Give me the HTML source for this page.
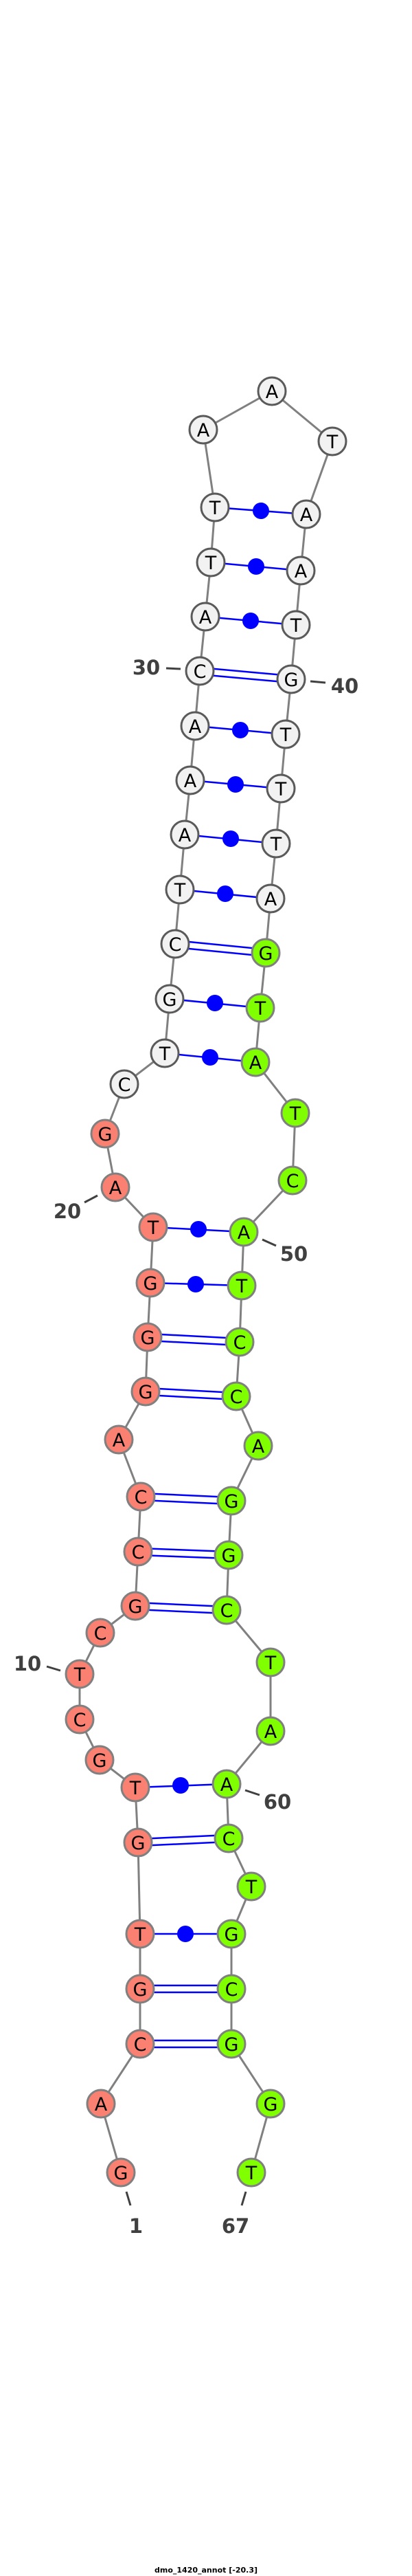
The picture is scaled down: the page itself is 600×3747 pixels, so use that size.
<!DOCTYPE html>
<html><head><meta charset="utf-8"><style>html,body{margin:0;padding:0;background:#fff}svg{display:block}</style></head>
<body>
<svg width="600" height="3747" viewBox="0 0 600 3747" xmlns="http://www.w3.org/2000/svg">
<g stroke="#808080" stroke-width="3" fill="none">
<polyline points="176,3160 147,3060 204,2973 204,2893 204,2813 201,2680 197,2600 145,2560 116,2501 116,2435 146,2375 197,2336 201,2257 205,2177 173,2094 212,2024 215,1945 219,1866 223,1785 168,1727 153,1649 181,1577 240,1532 247,1453 255,1373 262,1294 269,1214 277,1135 284,1056 291,976 299,897 307,818 313,738 296,625 396,569 484,642 446,748 438,830 431,909 424,988 416,1068 409,1147 402,1227 394,1307 387,1386 379,1466 372,1545 430,1619 426,1717 355,1792 352,1870 349,1952 344,2031 376,2103 337,2183 333,2262 330,2342 394,2418 394,2518 330,2595 333,2674 366,2744 337,2813 337,2893 337,2973 394,3060 366,3160"/>
</g>
<g stroke="#0000ff" stroke-width="2.5" fill="none">
<line x1="313" y1="738" x2="446" y2="748"/>
<line x1="307" y1="818" x2="438" y2="830"/>
<line x1="299" y1="897" x2="431" y2="909"/>
<line x1="284" y1="1056" x2="416" y2="1068"/>
<line x1="277" y1="1135" x2="409" y2="1147"/>
<line x1="269" y1="1214" x2="402" y2="1227"/>
<line x1="262" y1="1294" x2="394" y2="1307"/>
<line x1="247" y1="1453" x2="379" y2="1466"/>
<line x1="240" y1="1532" x2="372" y2="1545"/>
<line x1="223" y1="1785" x2="355" y2="1792"/>
<line x1="219" y1="1866" x2="352" y2="1870"/>
<line x1="197" y1="2600" x2="330" y2="2595"/>
<line x1="204" y1="2813" x2="337" y2="2813"/>
<!-- doubles -->
<line x1="291" y1="971" x2="424" y2="983"/><line x1="291" y1="981" x2="424" y2="993"/>
<line x1="255" y1="1368" x2="387" y2="1381"/><line x1="255" y1="1378" x2="387" y2="1391"/>
<line x1="215" y1="1940" x2="349" y2="1947"/><line x1="215" y1="1950" x2="349" y2="1957"/>
<line x1="212" y1="2019" x2="344" y2="2026"/><line x1="212" y1="2029" x2="344" y2="2036"/>
<line x1="205" y1="2172" x2="337" y2="2178"/><line x1="205" y1="2182" x2="337" y2="2188"/>
<line x1="201" y1="2252" x2="333" y2="2257"/><line x1="201" y1="2262" x2="333" y2="2267"/>
<line x1="197" y1="2331" x2="330" y2="2337"/><line x1="197" y1="2341" x2="330" y2="2347"/>
<line x1="201" y1="2675" x2="333" y2="2669"/><line x1="201" y1="2685" x2="333" y2="2679"/>
<line x1="204" y1="2888" x2="337" y2="2888"/><line x1="204" y1="2898" x2="337" y2="2898"/>
<line x1="204" y1="2968" x2="337" y2="2968"/><line x1="204" y1="2978" x2="337" y2="2978"/>
</g>
<g fill="#0000ff">
<circle cx="380" cy="743" r="12"/><circle cx="373" cy="824" r="12"/><circle cx="365" cy="903" r="12"/>
<circle cx="350" cy="1062" r="12"/><circle cx="343" cy="1141" r="12"/><circle cx="336" cy="1220" r="12"/>
<circle cx="328" cy="1300" r="12"/><circle cx="313" cy="1459" r="12"/><circle cx="306" cy="1538" r="12"/>
<circle cx="289" cy="1788" r="12"/><circle cx="285" cy="1868" r="12"/><circle cx="263" cy="2597" r="12"/>
<circle cx="270" cy="2813" r="12"/>
</g>
<g stroke-width="3">
<g fill="#f2f2f2" stroke="#5a5a5a">
<circle cx="181" cy="1577" r="20"/><circle cx="240" cy="1532" r="20"/><circle cx="247" cy="1453" r="20"/><circle cx="255" cy="1373" r="20"/><circle cx="262" cy="1294" r="20"/><circle cx="269" cy="1214" r="20"/><circle cx="277" cy="1135" r="20"/><circle cx="284" cy="1056" r="20"/><circle cx="291" cy="976" r="20"/><circle cx="299" cy="897" r="20"/><circle cx="307" cy="818" r="20"/><circle cx="313" cy="738" r="20"/><circle cx="296" cy="625" r="20"/><circle cx="396" cy="569" r="20"/><circle cx="484" cy="642" r="20"/><circle cx="446" cy="748" r="20"/><circle cx="438" cy="830" r="20"/><circle cx="431" cy="909" r="20"/><circle cx="424" cy="988" r="20"/><circle cx="416" cy="1068" r="20"/><circle cx="409" cy="1147" r="20"/><circle cx="402" cy="1227" r="20"/><circle cx="394" cy="1307" r="20"/>
</g>
<g fill="#fa8072" stroke="#808080">
<circle cx="176" cy="3160" r="20"/><circle cx="147" cy="3060" r="20"/><circle cx="204" cy="2973" r="20"/><circle cx="204" cy="2893" r="20"/><circle cx="204" cy="2813" r="20"/><circle cx="201" cy="2680" r="20"/><circle cx="197" cy="2600" r="20"/><circle cx="145" cy="2560" r="20"/><circle cx="116" cy="2501" r="20"/><circle cx="116" cy="2435" r="20"/><circle cx="146" cy="2375" r="20"/><circle cx="197" cy="2336" r="20"/><circle cx="201" cy="2257" r="20"/><circle cx="205" cy="2177" r="20"/><circle cx="173" cy="2094" r="20"/><circle cx="212" cy="2024" r="20"/><circle cx="215" cy="1945" r="20"/><circle cx="219" cy="1866" r="20"/><circle cx="223" cy="1785" r="20"/><circle cx="168" cy="1727" r="20"/><circle cx="153" cy="1649" r="20"/>
</g>
<g fill="#7fff00" stroke="#808080">
<circle cx="387" cy="1386" r="20"/><circle cx="379" cy="1466" r="20"/><circle cx="372" cy="1545" r="20"/><circle cx="430" cy="1619" r="20"/><circle cx="426" cy="1717" r="20"/><circle cx="355" cy="1792" r="20"/><circle cx="352" cy="1870" r="20"/><circle cx="349" cy="1952" r="20"/><circle cx="344" cy="2031" r="20"/><circle cx="376" cy="2103" r="20"/><circle cx="337" cy="2183" r="20"/><circle cx="333" cy="2262" r="20"/><circle cx="330" cy="2342" r="20"/><circle cx="394" cy="2418" r="20"/><circle cx="394" cy="2518" r="20"/><circle cx="330" cy="2595" r="20"/><circle cx="333" cy="2674" r="20"/><circle cx="366" cy="2744" r="20"/><circle cx="337" cy="2813" r="20"/><circle cx="337" cy="2893" r="20"/><circle cx="337" cy="2973" r="20"/><circle cx="394" cy="3060" r="20"/><circle cx="366" cy="3160" r="20"/>
</g>
</g>
<g font-family="DejaVu Sans, sans-serif" font-size="27" text-anchor="middle" fill="#000">
<text x="176" y="3170">G</text><text x="147" y="3070">A</text><text x="204" y="2983">C</text><text x="204" y="2903">G</text><text x="204" y="2823">T</text><text x="201" y="2690">G</text><text x="197" y="2610">T</text><text x="145" y="2570">G</text><text x="116" y="2511">C</text><text x="116" y="2445">T</text><text x="146" y="2385">C</text><text x="197" y="2346">G</text><text x="201" y="2267">C</text><text x="205" y="2187">C</text><text x="173" y="2104">A</text><text x="212" y="2034">G</text><text x="215" y="1955">G</text><text x="219" y="1876">G</text><text x="223" y="1795">T</text><text x="168" y="1737">A</text><text x="153" y="1659">G</text><text x="181" y="1587">C</text><text x="240" y="1542">T</text><text x="247" y="1463">G</text><text x="255" y="1383">C</text><text x="262" y="1304">T</text><text x="269" y="1224">A</text><text x="277" y="1145">A</text><text x="284" y="1066">A</text><text x="291" y="986">C</text><text x="299" y="907">A</text><text x="307" y="828">T</text><text x="313" y="748">T</text><text x="296" y="635">A</text><text x="396" y="579">A</text><text x="484" y="652">T</text><text x="446" y="758">A</text><text x="438" y="840">A</text><text x="431" y="919">T</text><text x="424" y="998">G</text><text x="416" y="1078">T</text><text x="409" y="1157">T</text><text x="402" y="1237">T</text><text x="394" y="1317">A</text><text x="387" y="1396">G</text><text x="379" y="1476">T</text><text x="372" y="1555">A</text><text x="430" y="1629">T</text><text x="426" y="1727">C</text><text x="355" y="1802">A</text><text x="352" y="1880">T</text><text x="349" y="1962">C</text><text x="344" y="2041">C</text><text x="376" y="2113">A</text><text x="337" y="2193">G</text><text x="333" y="2272">G</text><text x="330" y="2352">C</text><text x="394" y="2428">T</text><text x="394" y="2528">A</text><text x="330" y="2605">A</text><text x="333" y="2684">C</text><text x="366" y="2754">T</text><text x="337" y="2823">G</text><text x="337" y="2903">C</text><text x="337" y="2983">G</text><text x="394" y="3070">G</text><text x="366" y="3170">T</text>
</g>
<g stroke="#404040" stroke-width="3">
<line x1="242" y1="972" x2="263" y2="973"/><line x1="452" y1="991" x2="474" y2="993"/>
<line x1="123" y1="1749" x2="142" y2="1739"/><line x1="382" y1="1803" x2="402" y2="1812"/>
<line x1="68" y1="2424" x2="88" y2="2430"/><line x1="357" y1="2604" x2="378" y2="2611"/>
<line x1="184" y1="3188" x2="190" y2="3208"/><line x1="358" y1="3188" x2="352" y2="3208"/>
</g>
<g font-family="DejaVu Sans, sans-serif" font-size="29" font-weight="bold" text-anchor="middle" fill="#404040">
<text x="213" y="981">30</text><text x="502" y="1008">40</text><text x="98" y="1772">20</text><text x="428" y="1834">50</text><text x="40" y="2430">10</text><text x="404" y="2631">60</text><text x="198" y="3248">1</text><text x="343" y="3248">67</text>
</g>
<text x="300" y="3742" font-family="DejaVu Sans, sans-serif" font-size="11" font-weight="bold" text-anchor="middle" fill="#000">dmo_1420_annot [-20.3]</text>
</svg>
</body></html>
